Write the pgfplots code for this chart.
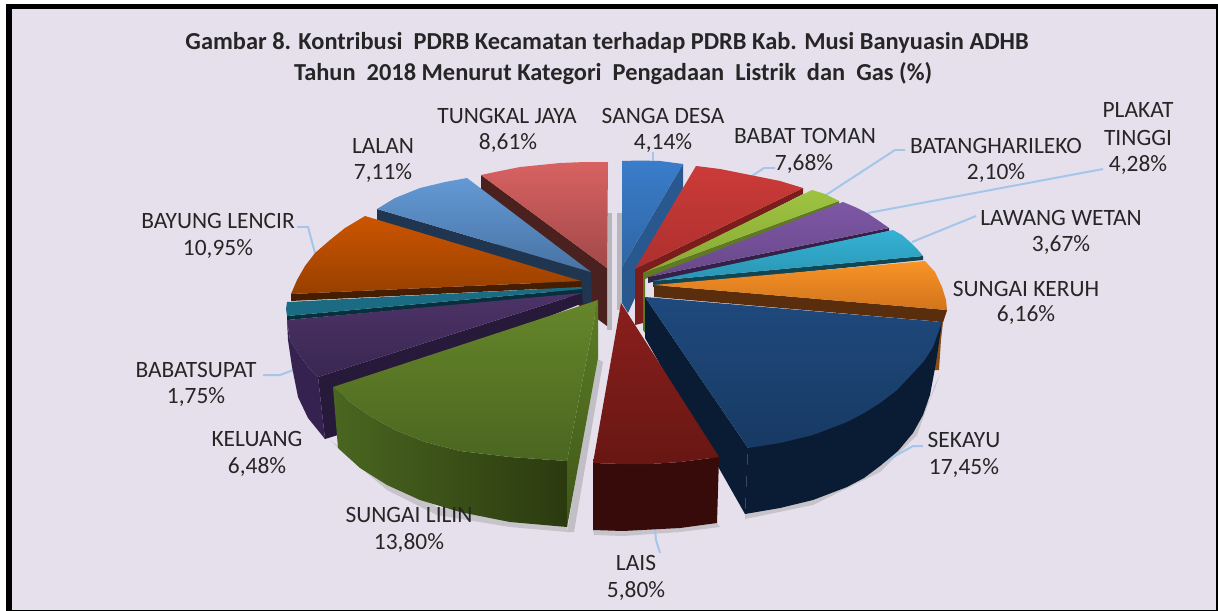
\documentclass[border=0pt]{standalone}
\usepackage{pgfplots}
\pgfplotsset{compat=1.18}
\usepackage{fontspec}
\setmainfont{Carlito}
\definecolor{bgl}{HTML}{E6E0EC}
\definecolor{lead}{HTML}{A3C6EA}
\definecolor{txt}{HTML}{262626}
\newcommand{\dc}[1]{\definecolor{HTML#1}{HTML}{#1}}
\dc{4A211F}\dc{D86262}\dc{A24848}\dc{28588E}\dc{3A7DCA}\dc{2F66A5}\dc{203550}\dc{6399D5}\dc{4873A3}
\dc{7A1D1B}\dc{CB3B39}\dc{AD302E}\dc{5A7620}\dc{5F7A22}\dc{9EC340}\dc{88A936}\dc{352048}\dc{7E57A5}\dc{68488A}
\dc{114655}\dc{34B2D4}\dc{2B94B2}\dc{8A5014}\dc{5A2E0C}\dc{F89327}\dc{D2741C}\dc{451D00}\dc{CC5500}\dc{984000}
\dc{05303C}\dc{1B6C82}\dc{26193A}\dc{352250}\dc{4D3368}\dc{3A2751}\dc{0A1C33}\dc{1F497D}\dc{173A63}
\dc{360B09}\dc{8A1F1C}\dc{681714}\dc{4A6620}\dc{2B3A0F}\dc{5C7E26}\dc{3F5618}\dc{66862A}
\newcommand{\slice}[3]{\addplot[draw=none,shade,top color=#1,bottom color=#2] coordinates {#3} -- cycle;}
\newcommand{\solid}[2]{\addplot[draw=none,fill=#1] coordinates {#2} -- cycle;}
\newcommand{\lbl}[3]{\node[font=\fontsize{23.5}{23.5}\selectfont,text=txt,anchor=center,yshift=-1bp] at (axis cs:#1,#2) {#3};}
\newcommand{\leadline}[1]{\addplot[draw=lead,line width=2pt] coordinates {#1};}
\begin{document}
\begin{tikzpicture}
\begin{axis}[
  width=1218bp,height=611bp,scale only axis,
  xmin=0,xmax=1218,ymin=0,ymax=611,y dir=reverse,
  axis lines=none,clip=true,
]
% frame
\solid{white}{(0,0)(1218,0)(1218,611)(0,611)}
\solid{black}{(6,4)(1218,4)(1218,611)(6,611)}
\solid{bgl}{(12,9)(1216,9)(1216,610)(12,610)}
% soft shadows
\solid{gray!45!bgl}{(607,213)(612,213)(612,330)(607,330)}
\solid{gray!45!bgl}{(617,213)(622,213)(622,310)(617,310)}
\solid{gray!35!bgl}{(596,358)(603,362)(574,532)(567,532)}
\solid{gray!30!bgl}{(330,440)(342,452)(387,490)(437,515)(510,527)(567,532)(567,527)(437,507)(338,446)}
\solid{gray!30!bgl}{(594,535)(623,536)(680,532)(720,527)(717,523)(593,530)}
\solid{gray!30!bgl}{(745,519)(813,505)(880,472)(917,435)(935,385)(940,375)(930,400)(745,514)}
% leaders behind
\leadline{(653,152)(653,164)}
\leadline{(752,176)(764,168)(775,168)}
\leadline{(826,195)(895,150)(905,150)}
\leadline{(868,213)(1103,169)}
\leadline{(912,242)(976,216)}
\leadline{(315,253)(308,227)(297,227)}
\leadline{(296,369)(280,375)(263,375)}
\leadline{(655,530)(656,540)(660,553)}
\leadline{(884,462)(913,446)(923,446)}
% Tungkal Jaya
\solid{HTML4A211F}{(481,175)(607,268)(607,326)(481,233)}
\slice{HTMLD86262}{HTMLA24848}{(481,175)(500,171)(520,167)(540,165)(560,163)(585,162)(608,162)(607,268)}
% Sanga Desa
\solid{HTML28588E}{(683,164)(683,193)(628,313)(622,303)(622,267)}
\slice{HTML3A7DCA}{HTML2F66A5}{(622,161)(640,160.5)(660,161)(683,164)(622,267)}
% Lalan
\solid{HTML203550}{(377,209)(591,272)(592,303)(581,303)(377,220)}
\slice{HTML6399D5}{HTML4873A3}{(591,272)(467,178)(445,182)(420,188)(395,198)(377,209)}
% Babat Toman
\solid{HTML7A1D1B}{(635,269)(635,325)(643,323)(643,273)}
\solid{HTML7A1D1B}{(803,188)(803,194)(640,277)(635,269)}
\slice{HTMLCB3B39}{HTMLAD302E}{(635,269)(696,166)(720,169)(750,175)(780,181)(803,188)}
% Batanghari Leko
\solid{HTML5A7620}{(643,273)(643,330)(645,333)(645,273)}
\solid{HTML5F7A22}{(839,201)(839,204)(645,279)(643,273)}
\slice{HTML9EC340}{HTML88A936}{(643,273)(812,190)(825,194)(839,201)}
% Plakat Tinggi
\solid{HTML352048}{(889,228)(889,231)(648,283)(648,277)}
\slice{HTML7E57A5}{HTML68488A}{(648,277)(843,202)(855,207)(867,213)(879,221)(889,228)}
% Lawang Wetan
\solid{HTML114655}{(923,256)(923,260)(653,287)(653,281)}
\slice{HTML34B2D4}{HTML2B94B2}{(653,281)(893,230)(902,235)(910,242)(918,250)(923,256)}
% Sungai Keruh
\solid{HTML8A5014}{(947,310)(943,322)(941,340)(939,370)(934,370)(938,320)}
\solid{HTML5A2E0C}{(947,310)(943,322)(654,297)(654,285)}
\slice{HTMLF89327}{HTMLD2741C}{(654,285)(925,261)(935,272)(942,287)(946,300)(947,310)}
% Bayung Lencir
\solid{HTML451D00}{(291,294)(581,281)(581,287)(291,301)}
\slice{HTMLCC5500}{HTML984000}{(581,281)(365,216)(345,228)(330,240)(315,253)(305,266)(297,280)(291,294)}
% Babatsupat
\solid{HTML05303C}{(287,316)(582,289)(582,294)(287,320)}
\solid{HTML1B6C82}{(287,302)(581,287)(582,289)(287,316)(286,309)}
% Keluang
\solid{HTML26193A}{(318,377)(582,293)(583,303)(338,400)(338,435)(325,439)}
\solid{HTML352250}{(287,320)(288,340)(292,367)(298,397)(308,418)(325,439)(318,377)(308,367)(298,353)(290,340)}
\slice{HTML4D3368}{HTML3A2751}{(582,293)(318,377)(308,367)(298,353)(290,340)(287,320)}
% Sekayu
\solid{HTML0A1C33}{(645,297)(645,338)(745,514)(748,448)}
\solid{HTML0A1C33}{(942,322)(936,363)(930,395)(923,415)(913,433)(898,451)(880,466)(864,478)(847,487)(813,500)(780,508)(745,514)(748,448)}
\slice{HTML1F497D}{HTML173A63}{(645,297)(942,322)(933,347)(924,361)(913,373)(897,390)(880,403)(864,413)(847,422)(813,435)(780,443)(748,448)}
% Lais
\solid{HTML360B09}{(593,463)(623,464)(650,464)(680,462)(719,457)(717,523)(680,528)(623,531)(593,530)}
\slice{HTML8A1F1C}{HTML681714}{(621,303)(593,463)(623,464)(650,464)(680,462)(719,457)}
% Sungai Lilin
\addplot[draw=none,shade,left color=HTML4A6620,right color=HTML2B3A0F] coordinates {(333,387)(338,448)(360,468)(387,485)(420,500)(460,512)(510,522)(567,527)(567,461)(510,457)(460,451)(425,442)(395,430)(370,416)(350,402)} -- cycle;
\addplot[draw=none,shade,top color=HTML5C7E26,bottom color=HTML3F5618] coordinates {(598,300)(598,358)(567,527)(567,461)} -- cycle;
\slice{HTML66862A}{HTML4A6620}{(598,300)(333,387)(350,402)(370,416)(395,430)(425,442)(460,451)(510,457)(567,461)}
% Labels
\node[font=\fontsize{24.5}{24.5}\selectfont\bfseries,text=txt,yshift=-2bp] at (axis cs:607,41) {Gambar 8. Kontribusi\ \ PDRB Kecamatan terhadap PDRB Kab. Musi Banyuasin ADHB};
\node[font=\fontsize{24.5}{24.5}\selectfont\bfseries,text=txt,yshift=-2bp] at (axis cs:613,72) {Tahun\ \ 2018 Menurut Kategori\ \ Pengadaan\ \ Listrik\ \ dan\ \ Gas (\%)};
\lbl{507}{115}{TUNGKAL JAYA}\lbl{508}{142}{8,61\%}
\lbl{663}{115}{SANGA DESA}\lbl{663}{142}{4,14\%}
\lbl{805}{135}{BABAT TOMAN}\lbl{804}{163}{7,68\%}
\lbl{996}{145}{BATANGHARILEKO}\lbl{996}{172}{2,10\%}
\lbl{1138}{109}{PLAKAT}\lbl{1138}{137}{TINGGI}\lbl{1138}{164}{4,28\%}
\lbl{1061}{217}{LAWANG WETAN}\lbl{1061}{244}{3,67\%}
\lbl{1026}{288}{SUNGAI KERUH}\lbl{1026}{314}{6,16\%}
\lbl{964}{439}{SEKAYU}\lbl{964}{467}{17,45\%}
\lbl{636}{562}{LAIS}\lbl{636}{590}{5,80\%}
\lbl{409}{514}{SUNGAI LILIN}\lbl{409}{542}{13,80\%}
\lbl{257}{438}{KELUANG}\lbl{257}{466}{6,48\%}
\lbl{196}{369}{BABATSUPAT}\lbl{196}{396}{1,75\%}
\lbl{218}{220}{BAYUNG LENCIR}\lbl{218}{248}{10,95\%}
\lbl{383}{145}{LALAN}\lbl{383}{172}{7,11\%}
\end{axis}
\end{tikzpicture}
\end{document}
